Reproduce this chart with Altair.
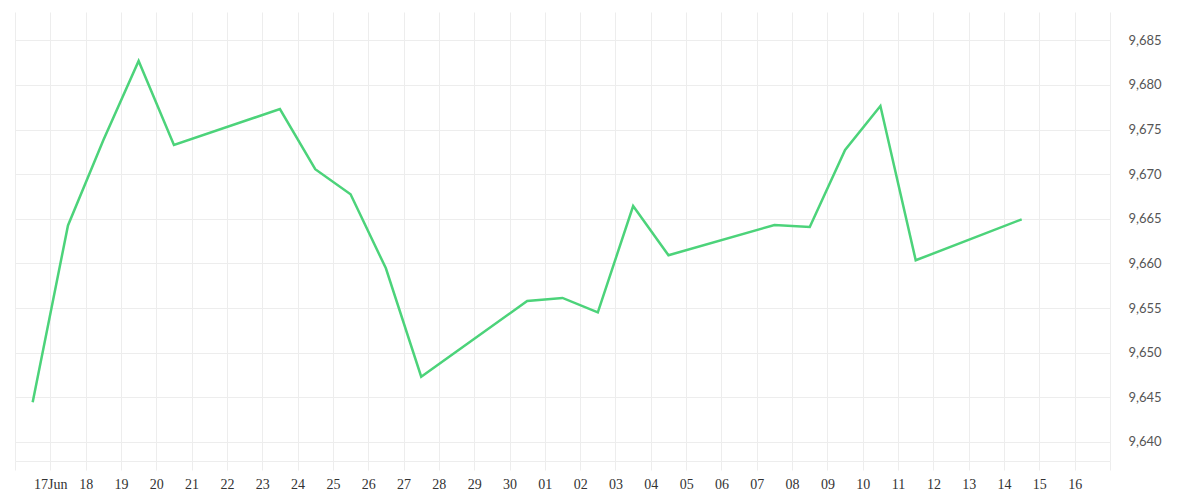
import altair as alt
import pandas as pd

dates = ["2025-06-16", "2025-06-17", "2025-06-18", "2025-06-19", "2025-06-20",
         "2025-06-23", "2025-06-24", "2025-06-25", "2025-06-26", "2025-06-27",
         "2025-06-30", "2025-07-01", "2025-07-02", "2025-07-03", "2025-07-04",
         "2025-07-07", "2025-07-08", "2025-07-09", "2025-07-10", "2025-07-11",
         "2025-07-14"]
values = [9644.44, 9664.25, 9673.8, 9682.68, 9673.27,
          9677.30, 9670.55, 9667.74, 9659.45, 9647.31,
          9655.79, 9656.13, 9654.52, 9666.43, 9660.91,
          9664.31, 9664.08, 9672.71, 9677.64, 9660.35,
          9664.94]
y_ticks = [9640, 9645, 9650, 9655, 9660, 9665, 9670, 9675, 9680, 9685]

df = pd.DataFrame({"t": [d + "T12:00:00" for d in dates], "v": values})

tick_dates = [alt.DateTime(year=2025, month=6, date=d) for d in range(16, 31)] + \
             [alt.DateTime(year=2025, month=7, date=d) for d in range(1, 18)]

grid = "#ededed"

label_expr = (
    "(month(datum.value) == 5 && date(datum.value) == 16) || "
    "(month(datum.value) == 6 && date(datum.value) == 17) ? '' : "
    "(month(datum.value) == 5 && date(datum.value) == 17) ? '17Jun' : "
    "timeFormat(datum.value, '%d')"
)

chart = alt.Chart(df).mark_line(color="#4cd37a", strokeWidth=2.5).encode(
    x=alt.X("t:T",
            scale=alt.Scale(domain=[alt.DateTime(year=2025, month=6, date=16),
                                    alt.DateTime(year=2025, month=7, date=17)]),
            axis=alt.Axis(values=tick_dates, labelExpr=label_expr, title=None,
                          grid=True, gridColor=grid, tickColor=grid, tickSize=9,
                          domainColor=grid, labelFont="Liberation Serif",
                          labelFontSize=14, labelColor="#333333",
                          labelPadding=7, labelOverlap=False, labelFlush=False)),
    y=alt.Y("v:Q",
            scale=alt.Scale(domain=[9637.86, 9688.17], nice=False, zero=False),
            axis=alt.Axis(orient="right", values=y_ticks, format=",", title=None,
                          grid=True, gridColor=grid, domain=False, ticks=False,
                          labelPadding=18, labelFont="Lato", labelFontSize=13,
                          labelColor="#555555")),
).properties(
    width=1095, height=449,
    autosize=alt.AutoSizeParams(type="none"),
    padding={"left": 7, "top": 4, "right": 82, "bottom": 31},
).configure_view(stroke=None)

chart.save("out.html", embed_options={"renderer": "svg", "actions": False})
